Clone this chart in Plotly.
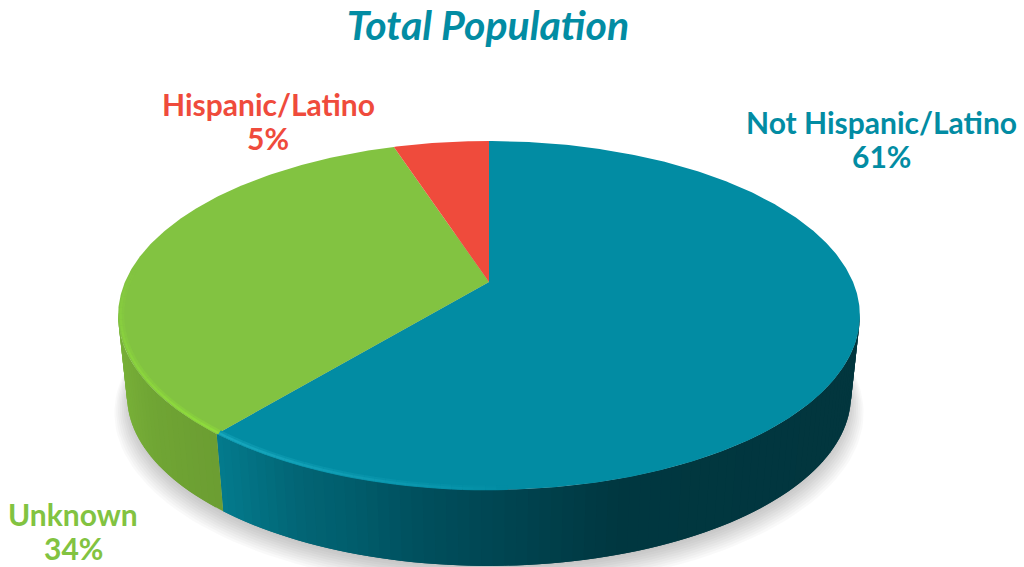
import numpy as np
import plotly.graph_objects as go

# Population shares, clockwise from twelve o'clock
categories = ["Not Hispanic/Latino", "Unknown", "Hispanic/Latino"]
shares = [61, 34, 5]
slice_colors = ["#028CA3", "#82C341", "#EF4B3C"]

# Where each category label sits on the page (px): centre x, name line y, value line y
label_x = [881, 73, 268]
name_y = [122, 514, 104]
value_y = [156, 548, 138]

# Wall shading by horizontal position (px, r, g, b)
wall_stops = {
    "Not Hispanic/Latino": [(213, 3, 124, 142), (300, 2, 100, 116), (340, 1, 95, 110),
                            (420, 0, 79, 93), (520, 0, 67, 79), (620, 0, 55, 64), (860, 2, 54, 62)],
    "Unknown": [(118, 120, 176, 56), (150, 112, 165, 52), (220, 107, 157, 50)],
    "Hispanic/Latino": [(0, 190, 60, 50), (1024, 190, 60, 50)],
}
rim_glow = {"Not Hispanic/Latino": (24, 168, 190), "Unknown": (143, 220, 60)}

# Perspective disc: apex position, half-axes and foreshortening
APEX_X, APEX_Y = 489, 282
AXIS_U, AXIS_V, TILT = 364, 168, 0.192
WALL_DROP, WALL_SCALE = 81, 0.976
FONT = "Lato"


def project(deg, scale=1.0, drop=0.0):
    """Map a clockwise angle on the disc rim to page coordinates."""
    t = np.radians(deg)
    u, v = np.sin(t), np.cos(t)
    w = 1 + TILT * v
    return APEX_X + scale * AXIS_U * u / w, APEX_Y + drop - scale * AXIS_V * v / w


def shade(stops, x):
    xs = [s[0] for s in stops]
    return tuple(np.interp(x, xs, [s[i] for s in stops]) for i in (1, 2, 3))


def rgb(c):
    return "rgb(%d,%d,%d)" % tuple(int(round(p)) for p in c)


def hex_rgb(h):
    return tuple(int(h[i:i + 2], 16) for i in (1, 3, 5))


edges = 360 * np.cumsum([0] + shares) / sum(shares)
fig = go.Figure()


def add_fill(xs, ys, color, opacity=1.0, hover=None):
    fig.add_trace(go.Scatter(
        x=xs, y=ys, mode="lines", fill="toself", fillcolor=color, opacity=opacity,
        line=dict(width=0), showlegend=False,
        hoverinfo="text" if hover else "skip", text=hover,
    ))


# Soft ground shadow under the disc
ring = np.linspace(0, 360, 181)
for grow, push in zip(np.linspace(1.035, 0.99, 10), np.linspace(16, 4, 10)):
    sx, sy = project(ring, WALL_SCALE * grow, WALL_DROP + push)
    add_fill(sx, sy, "rgb(0,0,0)", opacity=0.022)

# Outer wall: each strip overlaps the next so no seams show between them
RIGHT_END, LEFT_END = 100.0, 260.0
STEP = 1.5
for name, start, stop in zip(categories, edges[:-1], edges[1:]):
    lo, hi = max(start, RIGHT_END), min(stop, LEFT_END)
    if lo >= hi:
        continue
    for a in np.arange(lo, hi, STEP):
        b = min(a + 2 * STEP, hi)
        seg = np.array([a, a + (b - a) / 2, b])
        tx, ty = project(seg)
        bx, by = project(seg[::-1], WALL_SCALE, WALL_DROP)
        mid = project(a + STEP / 2)[0]
        add_fill(np.r_[tx, bx, tx[0]], np.r_[ty, by, ty[0]], rgb(shade(wall_stops[name], mid)))

# Flat top of each slice
for name, share, color, start, stop in zip(categories, shares, slice_colors, edges[:-1], edges[1:]):
    arc = np.linspace(start, stop, int(stop - start) * 2 + 2)
    ax, ay = project(arc)
    add_fill(np.r_[APEX_X, ax, APEX_X], np.r_[APEX_Y, ay, APEX_Y], color, hover=f"{name}: {share}%")

# Bevel highlight on the front rim: a wide soft pass, then a thin bright one
glow_spans = {"Not Hispanic/Latino": (edges[1] - 42, edges[1]), "Unknown": (edges[1] + 55, edges[1])}
for name, (far, near) in glow_spans.items():
    face = hex_rgb(slice_colors[categories.index(name)])
    glow = rim_glow[name]
    span = np.linspace(far, near, 30)
    for width, strength, inset in ((5.0, 0.45, 0.990), (2.2, 1.0, 0.993)):
        for a, b in zip(span[:-1], span[1:]):
            fade = (a - far) / (near - far)
            level = strength * fade ** 0.7
            mix = tuple(f + (g - f) * level for f, g in zip(face, glow))
            lx, ly = project(np.array([a, b]), inset)
            fig.add_trace(go.Scatter(x=lx, y=ly, mode="lines", line=dict(color=rgb(mix), width=width),
                                     showlegend=False, hoverinfo="skip"))

# Two-line category labels: name above value
annotations = []
for name, share, color, x, y1, y2 in zip(categories, shares, slice_colors, label_x, name_y, value_y):
    for text, y in ((name, y1), (f"{share}%", y2)):
        annotations.append(dict(x=x, y=y, xref="x", yref="y", text=text, showarrow=False,
                                xanchor="center", yanchor="middle",
                                font=dict(family=FONT, size=30, color=color, weight=700)))

fig.update_layout(
    width=1024, height=567, autosize=False,
    margin=dict(l=0, r=0, t=0, b=0),
    paper_bgcolor="white", plot_bgcolor="white",
    title=dict(text="Total Population", x=488 / 1024, xanchor="center", xref="paper",
               y=1 - 26 / 567, yanchor="middle", yref="paper",
               font=dict(family=FONT, size=41, color="#028CA3", weight=700, style="italic")),
    xaxis=dict(range=[0, 1024], visible=False, fixedrange=True),
    yaxis=dict(range=[567, 0], visible=False, fixedrange=True),
    annotations=annotations,
    showlegend=False,
)
fig.write_html("out.html", config=dict(displayModeBar=False))
